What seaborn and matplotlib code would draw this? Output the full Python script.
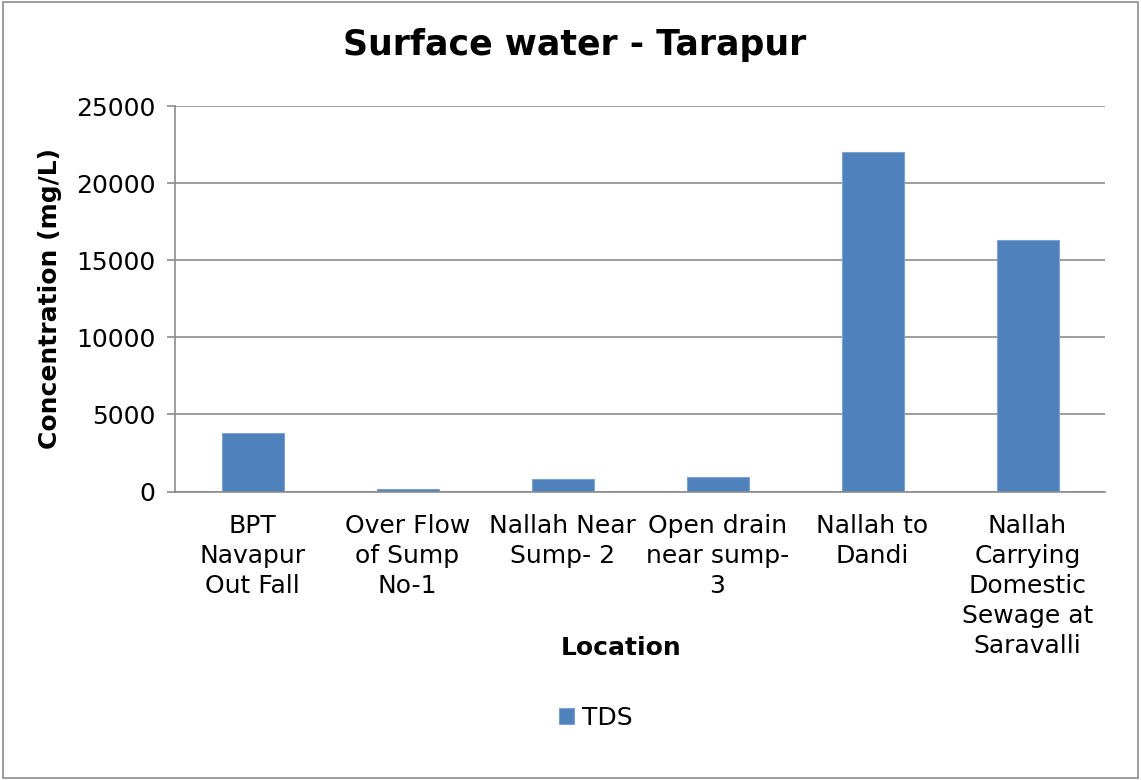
import matplotlib
matplotlib.use('Agg')
import matplotlib.pyplot as plt
import seaborn as sns
import pandas as pd
from matplotlib.patches import Rectangle

locations = ['BPT\nNavapur\nOut Fall', 'Over Flow\nof Sump\nNo-1', 'Nallah Near\nSump- 2',
             'Open drain\nnear sump-\n3', 'Nallah to\nDandi',
             'Nallah\nCarrying\nDomestic\nSewage at\nSaravalli']
tds = [3820, 170, 800, 930, 22000, 16330]

sns.set_style('white')
plt.rcParams['font.family'] = ['DejaVu Sans']
plt.rcParams['text.color'] = 'black'
plt.rcParams['axes.labelcolor'] = 'black'
plt.rcParams['xtick.color'] = 'black'
plt.rcParams['ytick.color'] = 'black'

df = pd.DataFrame({'Location': locations, 'TDS': tds})

fig = plt.figure(figsize=(11.41, 7.8), dpi=100)
ax = fig.add_axes([175 / 1141, 1 - 491.5 / 780, 930 / 1141, 385.5 / 780])

sns.barplot(data=df, x='Location', y='TDS', color='#4F81BD', width=0.4,
            edgecolor='#7FA3D0', linewidth=0.8, saturation=1, ax=ax, label='TDS')

ax.set_ylim(0, 25000)
ax.set_xlim(-0.5, len(locations) - 0.5)
ax.set_yticks(range(0, 25001, 5000))
ax.yaxis.grid(True, color='#8c8c8c', linewidth=1.2)
ax.set_axisbelow(True)
for s in ['top', 'right']:
    ax.spines[s].set_visible(False)
for s in ['left', 'bottom']:
    ax.spines[s].set_color('#8c8c8c')
    ax.spines[s].set_linewidth(1.2)

# category ticks at boundaries
ax.set_xticks([i - 0.5 for i in range(len(locations) + 1)], minor=True)
ax.tick_params(axis='x', which='minor', length=7, color='#8c8c8c', width=1.2)
ax.tick_params(axis='x', which='major', length=0, pad=16, labelsize=18)
ax.tick_params(axis='y', length=6, color='#8c8c8c', width=1.2, labelsize=18, pad=8,
               left=True, labelcolor='black')
for lbl in ax.get_xticklabels():
    lbl.set_linespacing(1.32)

ax.set_xlabel('Location', fontsize=18, fontweight='bold')
ax.xaxis.set_label_coords(621 / 1141, 1 - 648 / 780, transform=fig.transFigure)
ax.xaxis.label.set_va('center')
ax.set_ylabel('Concentration (mg/L)', fontsize=18, fontweight='bold', labelpad=10)
fig.text(575 / 1141, 1 - 45 / 780, 'Surface water - Tarapur', ha='center', va='center',
         fontsize=25, fontweight='bold')

ax.legend(loc='center', bbox_to_anchor=(0.522, 1 - 718 / 780), bbox_transform=fig.transFigure,
          frameon=False, fontsize=18, handlelength=0.6, handleheight=0.6, handletextpad=0.3)

fig.patches.append(Rectangle((0.003, 0.003), 0.994, 0.994, transform=fig.transFigure,
                             fill=False, edgecolor='#8c8c8c', linewidth=1.2))

fig.savefig('out.png', dpi=100)
